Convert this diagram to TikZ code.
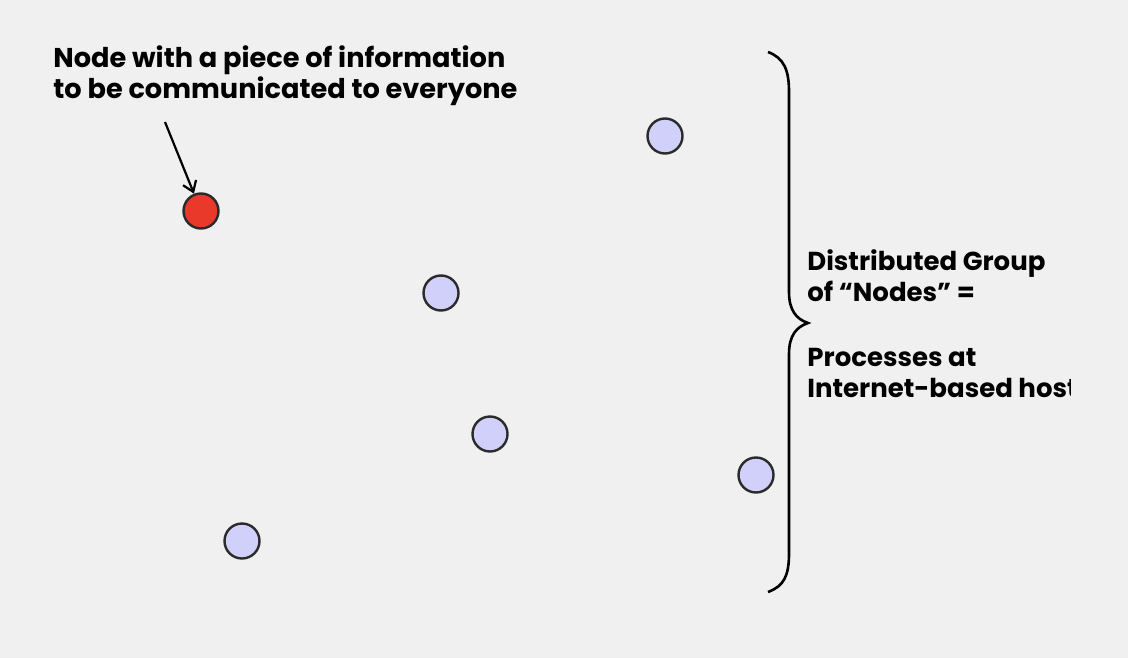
\documentclass[tikz,border=0pt]{standalone}
\usepackage{fontspec}
\setmainfont{Poppins}
\usetikzlibrary{arrows.meta}
\definecolor{bg}{HTML}{F0F0F0}
\definecolor{nodeblue}{HTML}{D0D0FA}
\definecolor{nodered}{HTML}{E8392A}
\definecolor{outline}{HTML}{2A2A2A}
\tikzset{
  proc/.style={circle, draw=outline, line width=1.2pt, fill=nodeblue, minimum size=17.5pt, inner sep=0pt},
  source/.style={proc, fill=nodered},
  label/.style={inner sep=0pt, align=left, font=\bfseries\fontsize{13}{15.5}\selectfont},
  biglabel/.style={label, font=\bfseries\fontsize{13.6}{15.5}\selectfont},
  pointer/.style={-{Straight Barb[length=5pt,width=7pt]}, line width=1.1pt, black},
  bracestroke/.style={line width=1.3pt, black}
}
\begin{document}
\begin{tikzpicture}[x=0.5pt,y=-0.5pt]
\fill[bg] (0,0) rectangle (1128,658);
\useasboundingbox (0,0) rectangle (1128,658);
\node[biglabel, anchor=base west] (title) at (53,98) {Node with a piece of information\\to be communicated to everyone};
\coordinate (tail) at (165,122);
\node[source] (red) at (201,211) {};
\node[proc] (n1) at (665,136) {};
\node[proc] (n2) at (441,293) {};
\node[proc] (n3) at (490,434) {};
\node[proc] (n4) at (756,475) {};
\node[proc] (n5) at (242,541) {};
\draw[pointer] (tail) -- (red);
\coordinate (btop) at (768,52);
\coordinate (btip) at (808,323);
\coordinate (bbot) at (768,592);
\draw[bracestroke] (btop) .. controls (784,58) and (789,70) .. (789,92) -- (789,292)
  .. controls (789,310) and (796,319) .. (btip)
  .. controls (796,327) and (789,336) .. (789,354) -- (789,553)
  .. controls (789,576) and (784,586) .. (bbot);
\begin{scope}
\clip (800,200) rectangle (1070,420);
\node[label, anchor=base west] (group) at (807,397) {Distributed Group\\of “Nodes” =\\[17pt]Processes at\\Internet-based hosts};
\end{scope}
\end{tikzpicture}
\end{document}
